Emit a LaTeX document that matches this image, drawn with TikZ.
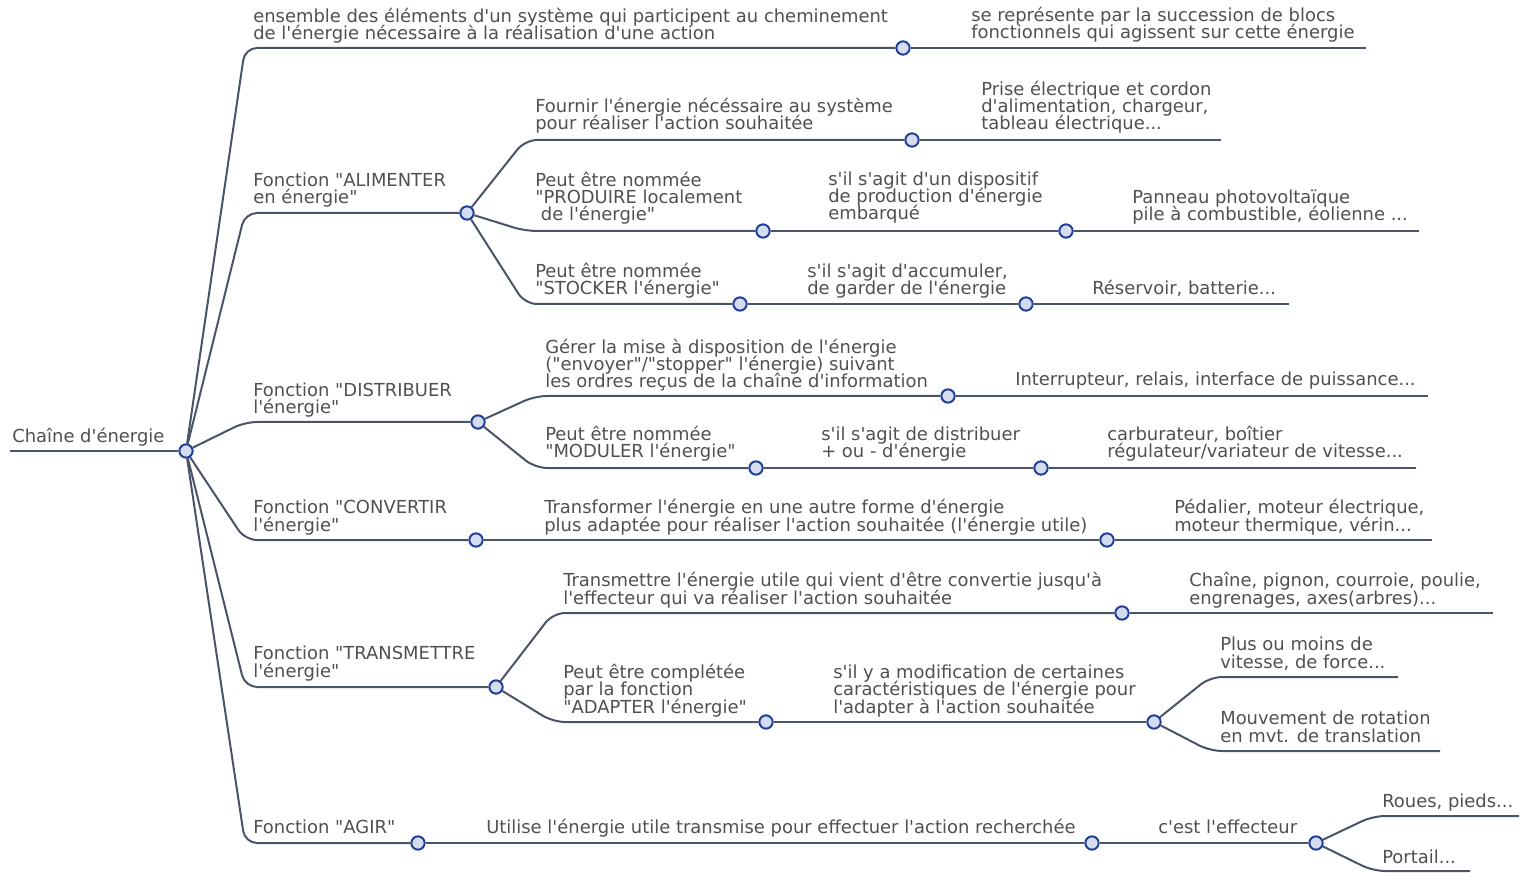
\documentclass[tikz,border=0pt]{standalone}
\usepackage{fontspec}
\setmainfont{DejaVu Sans}[Ligatures=TeXOff]
\definecolor{linkc}{HTML}{4A5469}
\definecolor{txtc}{HTML}{505050}
\definecolor{dotline}{HTML}{1F3F9A}
\definecolor{dotfill}{HTML}{D5DCF0}
% stacked lines, baseline on the last line
\newcommand\mlines[1]{\vbox{\baselineskip=13.1pt\lineskiplimit=-20pt\lineskip=0pt #1}}
\newcommand\rowt[1]{\hbox{#1}}
\begin{document}
\begin{tikzpicture}[x=0.75pt,y=-0.75pt,
  link/.style={draw=linkc,line width=1.5pt,rounded corners=9pt},
  dot/.style={circle,draw=dotline,fill=dotfill,line width=1.5pt,minimum size=10pt,inner sep=0pt},
  txt/.style={anchor=base west,inner sep=0pt,text=txtc,font=\fontsize{13.45}{13.1}\selectfont}]
\useasboundingbox (0,0) rectangle (1528,873);

% ---- junction dots
\node[dot] (R) at (186,451) {};
\node[dot] (Pdef) at (903,48) {};
\node[dot] (A) at (467,213) {};
\node[dot] (A1) at (912,140) {};
\node[dot] (A2) at (763,231) {};
\node[dot] (A2b) at (1066,231) {};
\node[dot] (A3) at (740,304) {};
\node[dot] (A3b) at (1026,304) {};
\node[dot] (D) at (478,422) {};
\node[dot] (D1) at (948,396) {};
\node[dot] (D2) at (756,468) {};
\node[dot] (D2b) at (1041,468) {};
\node[dot] (C) at (476,540) {};
\node[dot] (C1) at (1107,540) {};
\node[dot] (T) at (496,687) {};
\node[dot] (T1) at (1122,613) {};
\node[dot] (T2) at (766,722) {};
\node[dot] (T2b) at (1154,722) {};
\node[dot] (G) at (418,843) {};
\node[dot] (G1) at (1092,843) {};
\node[dot] (G2) at (1316,843) {};

% ---- bend points and free ends
\coordinate (r0) at (10,451);
\coordinate (b1) at (245,48);
\coordinate (b2) at (245,213);
\coordinate (b3) at (245,422);
\coordinate (b4) at (245,540);
\coordinate (b5) at (245,687);
\coordinate (b6) at (245,843);
\coordinate (e0) at (1366,48);
\coordinate (a1) at (525,140);
\coordinate (a2) at (525,231);
\coordinate (a3) at (525,304);
\coordinate (ea1) at (1221,140);
\coordinate (ea2) at (1419,231);
\coordinate (ea3) at (1289,304);
\coordinate (d1) at (535,396);
\coordinate (d2) at (535,468);
\coordinate (ed1) at (1428,396);
\coordinate (ed2) at (1416,468);
\coordinate (ec1) at (1432,540);
\coordinate (t1) at (553,613);
\coordinate (t2) at (553,722);
\coordinate (et1) at (1493,613);
\coordinate (m1) at (1210,677);
\coordinate (m2) at (1210,751);
\coordinate (em1) at (1398,677);
\coordinate (em2) at (1440,751);
\coordinate (g1) at (1373,816);
\coordinate (g2) at (1373,871);
\coordinate (eg1) at (1519,816);
\coordinate (eg2) at (1470,871);

% ---- connectors
\draw[link] (r0) -- (R);
\draw[link] (R) -- (b1) -- (Pdef);
\draw[link] (Pdef) -- (e0);
\draw[link] (R) -- (b2) -- (A);
\draw[link] (R) -- (b3) -- (D);
\draw[link] (R) -- (b4) -- (C);
\draw[link] (R) -- (b5) -- (T);
\draw[link] (R) -- (b6) -- (G);

\draw[link] (A) -- (a1) -- (A1);
\draw[link] (A1) -- (ea1);
\draw[link] (A) -- (a2) -- (A2);
\draw[link] (A2) -- (A2b);
\draw[link] (A2b) -- (ea2);
\draw[link] (A) -- (a3) -- (A3);
\draw[link] (A3) -- (A3b);
\draw[link] (A3b) -- (ea3);

\draw[link] (D) -- (d1) -- (D1);
\draw[link] (D1) -- (ed1);
\draw[link] (D) -- (d2) -- (D2);
\draw[link] (D2) -- (D2b);
\draw[link] (D2b) -- (ed2);

\draw[link] (C) -- (C1);
\draw[link] (C1) -- (ec1);

\draw[link] (T) -- (t1) -- (T1);
\draw[link] (T1) -- (et1);
\draw[link] (T) -- (t2) -- (T2);
\draw[link] (T2) -- (T2b);
\draw[link] (T2b) -- (m1) -- (em1);
\draw[link] (T2b) -- (m2) -- (em2);

\draw[link] (G) -- (G1);
\draw[link] (G1) -- (G2);
\draw[link] (G2) -- (g1) -- (eg1);
\draw[link] (G2) -- (g2) -- (eg2);

% ---- labels
\node[txt] (lroot) at (12,443) {Chaîne d'énergie};
\node[txt] (ldef) at (253,40) {\mlines{\rowt{ensemble des éléments d'un système qui participent au cheminement}\rowt{de l'énergie nécessaire à la réalisation d'une action}}};
\node[txt] (ldef2) at (971,39) {\mlines{\rowt{se représente par la succession de blocs}\rowt{fonctionnels qui agissent sur cette énergie}}};

\node[txt] (lA) at (253,204) {\mlines{\rowt{Fonction "ALIMENTER}\rowt{en énergie"}}};
\node[txt] (lA1) at (535,130) {\mlines{\rowt{Fournir l'énergie nécéssaire au système}\rowt{pour réaliser l'action souhaitée}}};
\node[txt] (lA1b) at (981,130) {\mlines{\rowt{Prise électrique et cordon}\rowt{d'alimentation, chargeur,}\rowt{tableau électrique...}}};
\node[txt] (lA2) at (535,221) {\mlines{\rowt{Peut être nommée}\rowt{"PRODUIRE localement}\rowt{\ de l'énergie"}}};
\node[txt] (lA2b) at (828,220) {\mlines{\rowt{s'il s'agit d'un dispositif}\rowt{de production d'énergie}\rowt{embarqué}}};
\node[txt] (lA2c) at (1132,221) {\mlines{\rowt{Panneau photovoltaïque}\rowt{pile à combustible, éolienne ...}}};
\node[txt] (lA3) at (535,295) {\mlines{\rowt{Peut être nommée}\rowt{"STOCKER l'énergie"}}};
\node[txt] (lA3b) at (807,295) {\mlines{\rowt{s'il s'agit d'accumuler,}\rowt{de garder de l'énergie}}};
\node[txt] (lA3c) at (1092,295) {Réservoir, batterie...};

\node[txt] (lD) at (253,414) {\mlines{\rowt{Fonction "DISTRIBUER}\rowt{l'énergie"}}};
\node[txt] (lD1) at (545,388) {\mlines{\rowt{Gérer la mise à disposition de l'énergie}\rowt{("envoyer"/"stopper" l'énergie) suivant}\rowt{les ordres reçus de la chaîne d'information}}};
\node[txt] (lD1b) at (1015,386) {Interrupteur, relais, interface de puissance...};
\node[txt] (lD2) at (545,458) {\mlines{\rowt{Peut être nommée}\rowt{"MODULER l'énergie"}}};
\node[txt] (lD2b) at (821,458) {\mlines{\rowt{s'il s'agit de distribuer}\rowt{+ ou - d'énergie}}};
\node[txt] (lD2c) at (1107,458) {\mlines{\rowt{carburateur, boîtier}\rowt{régulateur/variateur de vitesse...}}};

\node[txt] (lC) at (253,531) {\mlines{\rowt{Fonction "CONVERTIR}\rowt{l'énergie"}}};
\node[txt] (lC1) at (544,531) {\mlines{\rowt{Transformer l'énergie en une autre forme d'énergie}\rowt{plus adaptée pour réaliser l'action souhaitée (l'énergie utile)}}};
\node[txt] (lC1b) at (1174,531) {\mlines{\rowt{Pédalier, moteur électrique,}\rowt{moteur thermique, vérin...}}};

\node[txt] (lT) at (253,677) {\mlines{\rowt{Fonction "TRANSMETTRE}\rowt{l'énergie"}}};
\node[txt] (lT1) at (563,604) {\mlines{\rowt{Transmettre l'énergie utile qui vient d'être convertie jusqu'à}\rowt{l'effecteur qui va réaliser l'action souhaitée}}};
\node[txt] (lT1b) at (1189,604) {\mlines{\rowt{Chaîne, pignon, courroie, poulie,}\rowt{engrenages, axes(arbres)...}}};
\node[txt] (lT2) at (563,713) {\mlines{\rowt{Peut être complétée}\rowt{par la fonction}\rowt{"ADAPTER l'énergie"}}};
\node[txt] (lT2b) at (833,713) {\mlines{\rowt{s'il y a modification de certaines}\rowt{caractéristiques de l'énergie pour}\rowt{l'adapter à l'action souhaitée}}};
\node[txt] (lT2c) at (1220,668) {\mlines{\rowt{Plus ou moins de}\rowt{vitesse, de force...}}};
\node[txt] (lT2d) at (1220,742) {\mlines{\rowt{Mouvement de rotation}\rowt{en mvt. de translation}}};

\node[txt] (lG) at (253,833) {Fonction "AGIR"};
\node[txt] (lG1) at (486,833) {Utilise l'énergie utile transmise pour effectuer l'action recherchée};
\node[txt] (lG2) at (1158,833) {c'est l'effecteur};
\node[txt] (lG3) at (1382,807) {Roues, pieds...};
\node[txt] (lG4) at (1382,863) {Portail...};
\end{tikzpicture}
\end{document}
